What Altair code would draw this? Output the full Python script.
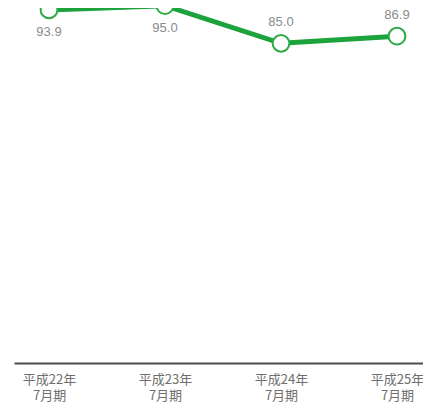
import altair as alt
import pandas as pd

periods = ["平成22年\n7月期", "平成23年\n7月期", "平成24年\n7月期", "平成25年\n7月期"]
values = [93.9, 95.0, 85.0, 86.9]
labels = ["93.9", "95.0", "85.0", "86.9"]
below = ["平成22年\n7月期", "平成23年\n7月期"]

df = pd.DataFrame({"period": periods, "value": values, "label": labels})

x = alt.X("period:N", sort=periods,
          scale=alt.Scale(type="point", padding=0.263, align=0.574),
          axis=alt.Axis(title=None, ticks=False, grid=False,
                        labelAngle=0, labelExpr="split(datum.label, '\\n')",
                        labelFont="Noto Sans CJK JP", labelFontSize=13,
                        labelColor="#6e6e6e", labelLineHeight=16,
                        labelPadding=10, labelBaseline="top",
                        domainColor="#4a4a4a", domainWidth=2))
y = alt.Y("value:Q", scale=alt.Scale(domain=[0, 94.4], nice=False, zero=True),
          axis=None)

base = alt.Chart(df).encode(x=x, y=y)

line = base.mark_line(color="#1ca33b", strokeWidth=5)
pts = base.mark_point(filled=False, fill="white", fillOpacity=1, shape="circle",
                      size=280, stroke="#2eaa48", strokeWidth=2, opacity=1)

txt_style = dict(font="Liberation Sans", fontSize=13, color="#8a8a8a",
                 baseline="middle", align="center")
txt_below = base.transform_filter(
    alt.FieldOneOfPredicate(field="period", oneOf=below)
).mark_text(dy=22, **txt_style).encode(text="label:N")
txt_above = base.transform_filter(
    ~alt.FieldOneOfPredicate(field="period", oneOf=below)
).mark_text(dy=-21, **txt_style).encode(text="label:N")

chart = alt.layer(line, pts, txt_below, txt_above).properties(
    width=409, height=355,
    padding={"left": 6, "top": 0, "right": 0, "bottom": 40},
    autosize="none",
).configure_view(stroke=None)

chart.save("out.html", embed_options={"renderer": "svg", "actions": False})
